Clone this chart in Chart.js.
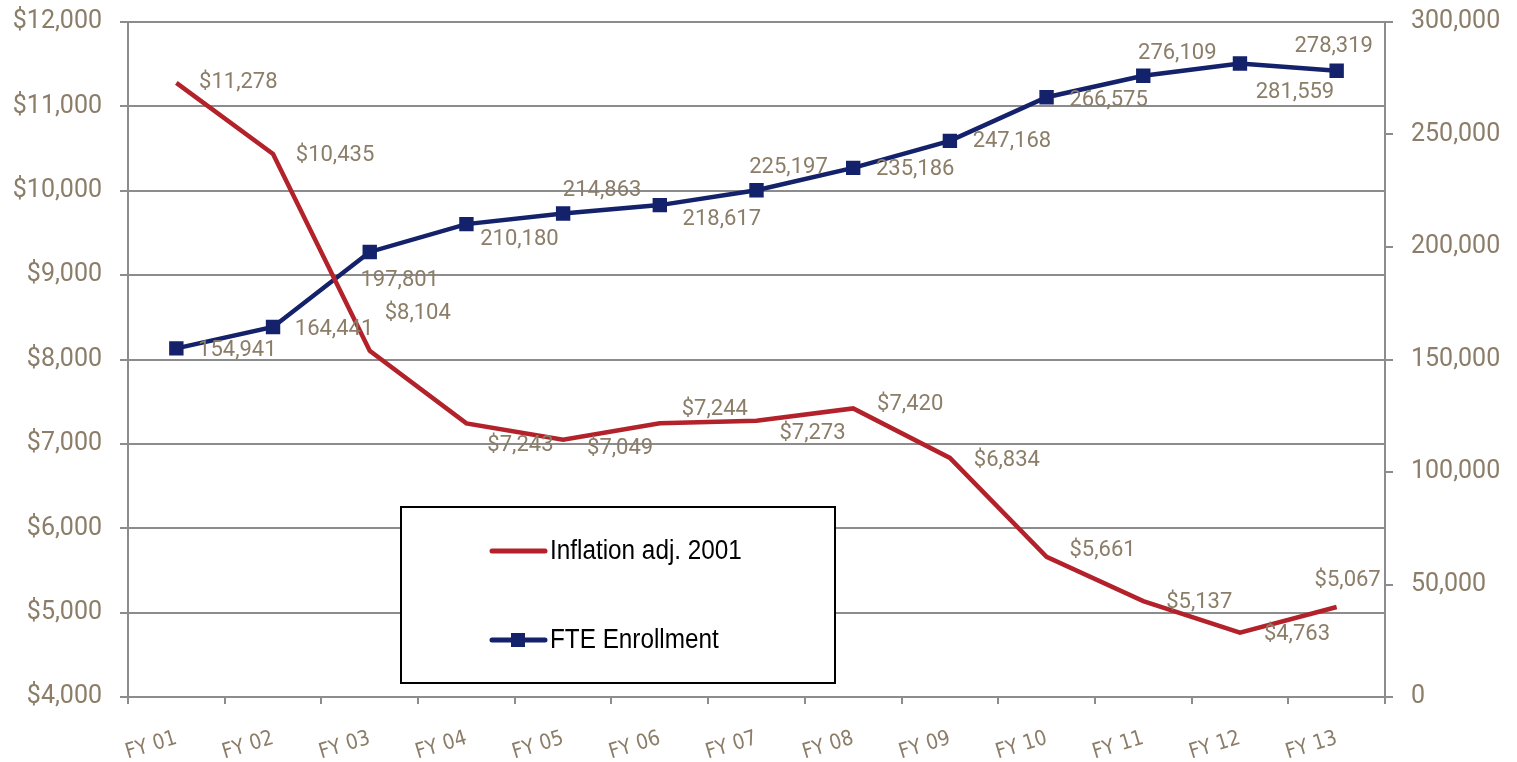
<!DOCTYPE html>
<html>
<head>
<meta charset="utf-8">
<script src="https://cdn.jsdelivr.net/npm/chart.js@4/dist/chart.umd.min.js"></script>
<style>
  html, body { margin: 0; padding: 0; background: #fff; }
  #wrap { width: 1517px; height: 762px; }
</style>
</head>
<body>
<div id="wrap"><canvas id="chart"></canvas></div>
<script>
const years = ['FY 01', 'FY 02', 'FY 03', 'FY 04', 'FY 05', 'FY 06', 'FY 07', 'FY 08', 'FY 09', 'FY 10', 'FY 11', 'FY 12', 'FY 13']
const inflationAdj = [11278, 10435, 8104, 7243, 7049, 7244, 7273, 7420, 6834, 5661, 5137, 4763, 5067]
const fteEnrollment = [154941, 164441, 197801, 210180, 214863, 218617, 225197, 235186, 247168, 266575, 276109, 281559, 278319]
const dollarTicks = [4000, 5000, 6000, 7000, 8000, 9000, 10000, 11000, 12000]
const enrollTicks = [0, 50000, 100000, 150000, 200000, 250000, 300000]

// where each value label sits relative to its point (label centre)
const redLabelOffsets = [[62, 0], [62, 1], [48, -37], [54, 22], [57, 9], [55, -14], [56, 13], [57, -4], [57, 3], [56, -6], [56, 1], [57, 2], [11, -26]]
const blueLabelOffsets = [[61, 2], [61, 2], [30, 29], [53, 15], [39, -23], [62, 14], [32, -23], [62, 2], [62, 1], [62, 3], [34, -22], [55, 29], [-3, -24]]

const red = '#B3222A'
const navy = '#14216B'
const tan = '#8B7D68'
const gridGray = '#8C8C8C'

const valueLabels = {
  id: 'valueLabels',
  afterDatasetsDraw(chart) {
    const ctx = chart.ctx
    ctx.save()
    ctx.font = '22px Roboto, "Liberation Sans", sans-serif'
    ctx.fillStyle = tan
    ctx.textAlign = 'center'
    ctx.textBaseline = 'middle'
    const offs = [redLabelOffsets, blueLabelOffsets]
    chart.data.datasets.forEach((ds, di) => {
      const meta = chart.getDatasetMeta(di)
      meta.data.forEach((pt, i) => {
        const v = ds.data[i].toLocaleString('en-US')
        const txt = di === 0 ? '$' + v : v
        ctx.fillText(txt, pt.x + offs[di][i][0], pt.y + offs[di][i][1])
      })
    })
    ctx.restore()
  }
}

const boxLegend = {
  id: 'boxLegend',
  afterDraw(chart) {
    const ctx = chart.ctx
    const left = 401, top = 507, w = 434, h = 176
    ctx.save()
    ctx.fillStyle = '#fff'
    ctx.fillRect(left, top, w, h)
    ctx.lineWidth = 2
    ctx.strokeStyle = '#000'
    ctx.strokeRect(left, top, w, h)

    ctx.lineCap = 'round'
    ctx.lineWidth = 5
    ctx.strokeStyle = red
    ctx.beginPath(); ctx.moveTo(492, 551); ctx.lineTo(545, 551); ctx.stroke()
    ctx.strokeStyle = navy
    ctx.beginPath(); ctx.moveTo(492, 640); ctx.lineTo(545, 640); ctx.stroke()
    ctx.fillStyle = navy
    ctx.fillRect(511, 633, 14, 14)

    // condensed look: squeeze the text horizontally
    ctx.fillStyle = '#000'
    ctx.font = '27px "Liberation Sans", sans-serif'
    ctx.textAlign = 'left'
    ctx.textBaseline = 'middle'
    ctx.translate(550, 0)
    ctx.scale(0.9, 1)
    ctx.fillText('Inflation adj. 2001', 0, 552)
    ctx.fillText('FTE Enrollment', 0, 641)
    ctx.restore()
  }
}

const noEdgePadding = scale => { scale.paddingTop = 0; scale.paddingBottom = 0 }

new Chart(document.getElementById('chart'), {
  type: 'line',
  data: {
    labels: years,
    datasets: [{
      label: 'Inflation adj. 2001',
      data: inflationAdj,
      yAxisID: 'y',
      borderColor: red,
      backgroundColor: red,
      borderWidth: 4.5,
      pointRadius: 0,
      tension: 0,
      fill: false
    }, {
      label: 'FTE Enrollment',
      data: fteEnrollment,
      yAxisID: 'y1',
      borderColor: navy,
      backgroundColor: navy,
      borderWidth: 4.5,
      pointStyle: 'rect',
      pointRadius: 7,
      pointHoverRadius: 7,
      tension: 0,
      fill: false
    }]
  },
  options: {
    responsive: true,
    maintainAspectRatio: false,
    animation: false,
    layout: { padding: { top: 22, right: 0, left: 0, bottom: 0 } },
    plugins: {
      legend: { display: false },
      tooltip: { enabled: false }
    },
    scales: {
      x: {
        offset: true,
        grid: { drawOnChartArea: false, drawTicks: true, tickLength: 7, color: gridGray, lineWidth: 2, offset: true },
        border: { color: gridGray, width: 2 },
        ticks: {
          color: tan,
          font: { family: '"DejaVu Sans Condensed", "Liberation Sans", sans-serif', size: 21 },
          minRotation: 17,
          maxRotation: 17,
          padding: 22
        },
        afterFit(scale) { scale.height = 65 }
      },
      y: {
        position: 'left',
        min: 4000,
        max: 12000,
        afterBuildTicks(scale) { scale.ticks = dollarTicks.map(v => ({ value: v })) },
        grid: { color: gridGray, lineWidth: 2, tickLength: 8 },
        border: { color: gridGray, width: 2 },
        ticks: {
          color: tan,
          font: { family: 'Roboto, "Liberation Sans", sans-serif', size: 25 },
          padding: 18,
          callback: v => '$' + v.toLocaleString('en-US')
        },
        afterFit(scale) { scale.width = 128; noEdgePadding(scale) }
      },
      y1: {
        position: 'right',
        min: 0,
        max: 300000,
        afterBuildTicks(scale) { scale.ticks = enrollTicks.map(v => ({ value: v })) },
        grid: { drawOnChartArea: false, color: gridGray, lineWidth: 2, tickLength: 8 },
        border: { color: gridGray, width: 2 },
        ticks: {
          color: tan,
          font: { family: 'Roboto, "Liberation Sans", sans-serif', size: 25 },
          padding: 18,
          callback: v => v.toLocaleString('en-US')
        },
        afterFit(scale) { scale.width = 132; noEdgePadding(scale) }
      }
    }
  },
  plugins: [valueLabels, boxLegend]
})
</script>
</body>
</html>
